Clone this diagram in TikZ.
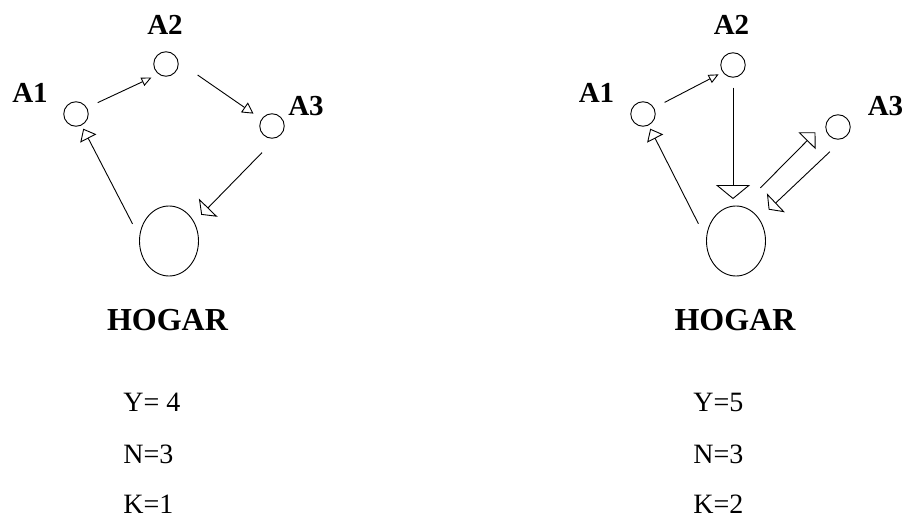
\documentclass[tikz,border=0pt]{standalone}
\usepackage{fontspec}
\setmainfont{Liberation Serif}
\usetikzlibrary{arrows.meta,shapes.geometric}
\begin{document}
\begin{tikzpicture}[x=1pt,y=-1pt,line width=0.9pt,
  small/.style={circle,draw,inner sep=0pt,minimum size=24.5pt},
  home/.style={ellipse,draw,inner sep=0pt,minimum width=59pt,minimum height=70pt},
  lab/.style={font=\fontsize{29}{29}\selectfont\bfseries,inner sep=0pt,anchor=base},
  hlab/.style={font=\fontsize{32}{32}\selectfont\bfseries,inner sep=0pt,anchor=base},
  val/.style={font=\fontsize{28}{28}\selectfont,inner sep=0pt,text depth=0pt,anchor=base west},
  arrS/.style={-{Triangle[open,length=10pt,width=9pt]}},
  arrM/.style={-{Triangle[open,length=11pt,width=12pt]}},
  arrW/.style={-{Triangle[open,length=10pt,width=26pt]}},
  arrH/.style={-{Triangle[open,length=11pt,width=18pt]}},
  arrBig/.style={-{Triangle[open,length=14pt,width=34pt]}},
  arrB/.style={-{Triangle[open,length=12pt,width=24pt]}},
]
\useasboundingbox (0,0) rectangle (907,519);

% ---------- left diagram ----------
\node[small] (lA1) at (76,114) {};
\node[small] (lA2) at (166,64) {};
\node[small] (lA3) at (272,126) {};
\node[home] (lH) at (169,241) {};
\node[lab] (lA1t) at (30,102) {A1};
\node[lab] (lA2t) at (165,35) {A2};
\node[lab] (lA3t) at (306,115) {A3};
\node[hlab] (lHt) at (167.5,330) {HOGAR};
\node[val] (lY) at (123,411) {Y= 4};
\node[val] (lN) at (123,463) {N=3};
\node[val] (lK) at (123,513) {K=1};

\draw[arrS,shorten <=11.8pt,shorten >=7.8pt] (lA1.30) -- (lA2.234);
\draw[arrM,shorten <=23.2pt,shorten >=9.6pt] (lA2.10) -- (lA3.147);
\draw[arrW,shorten <=20.5pt,shorten >=10pt] (lA3.290) -- (lH.37);
\draw[arrH,shorten <=14.5pt,shorten >=3.7pt] (lH.172) -- (lA1.296);

% ---------- right diagram ----------
\node[small] (rA1) at (643,114) {};
\node[small] (rA2) at (733,65) {};
\node[small] (rA3) at (838,127) {};
\node[home] (rH) at (736,241) {};
\node[lab] (rA1t) at (596.5,102) {A1};
\node[lab] (rA2t) at (731.5,35) {A2};
\node[lab] (rA3t) at (885.5,115) {A3};
\node[hlab] (rHt) at (735,330) {HOGAR};
\node[val] (rY) at (693,411) {Y=5};
\node[val] (rN) at (693,463) {N=3};
\node[val] (rK) at (693,513) {K=2};

\draw[arrS,shorten <=11.8pt,shorten >=4.5pt] (rA1.29) -- (rA2.215);
\draw[arrBig,shorten <=10pt,shorten >=6.5pt] (rA2.south) -- (rA2.south |- rH.north);
\draw[arrB,shorten <=25.9pt,shorten >=16.4pt] (rH.80) -- (rA3.150);
\draw[arrW,shorten <=20pt,shorten >=13pt] (rA3.300) -- (rH.44);
\draw[arrH,shorten <=17pt,shorten >=3.7pt] (rH.176) -- (rA1.296);
\end{tikzpicture}
\end{document}
